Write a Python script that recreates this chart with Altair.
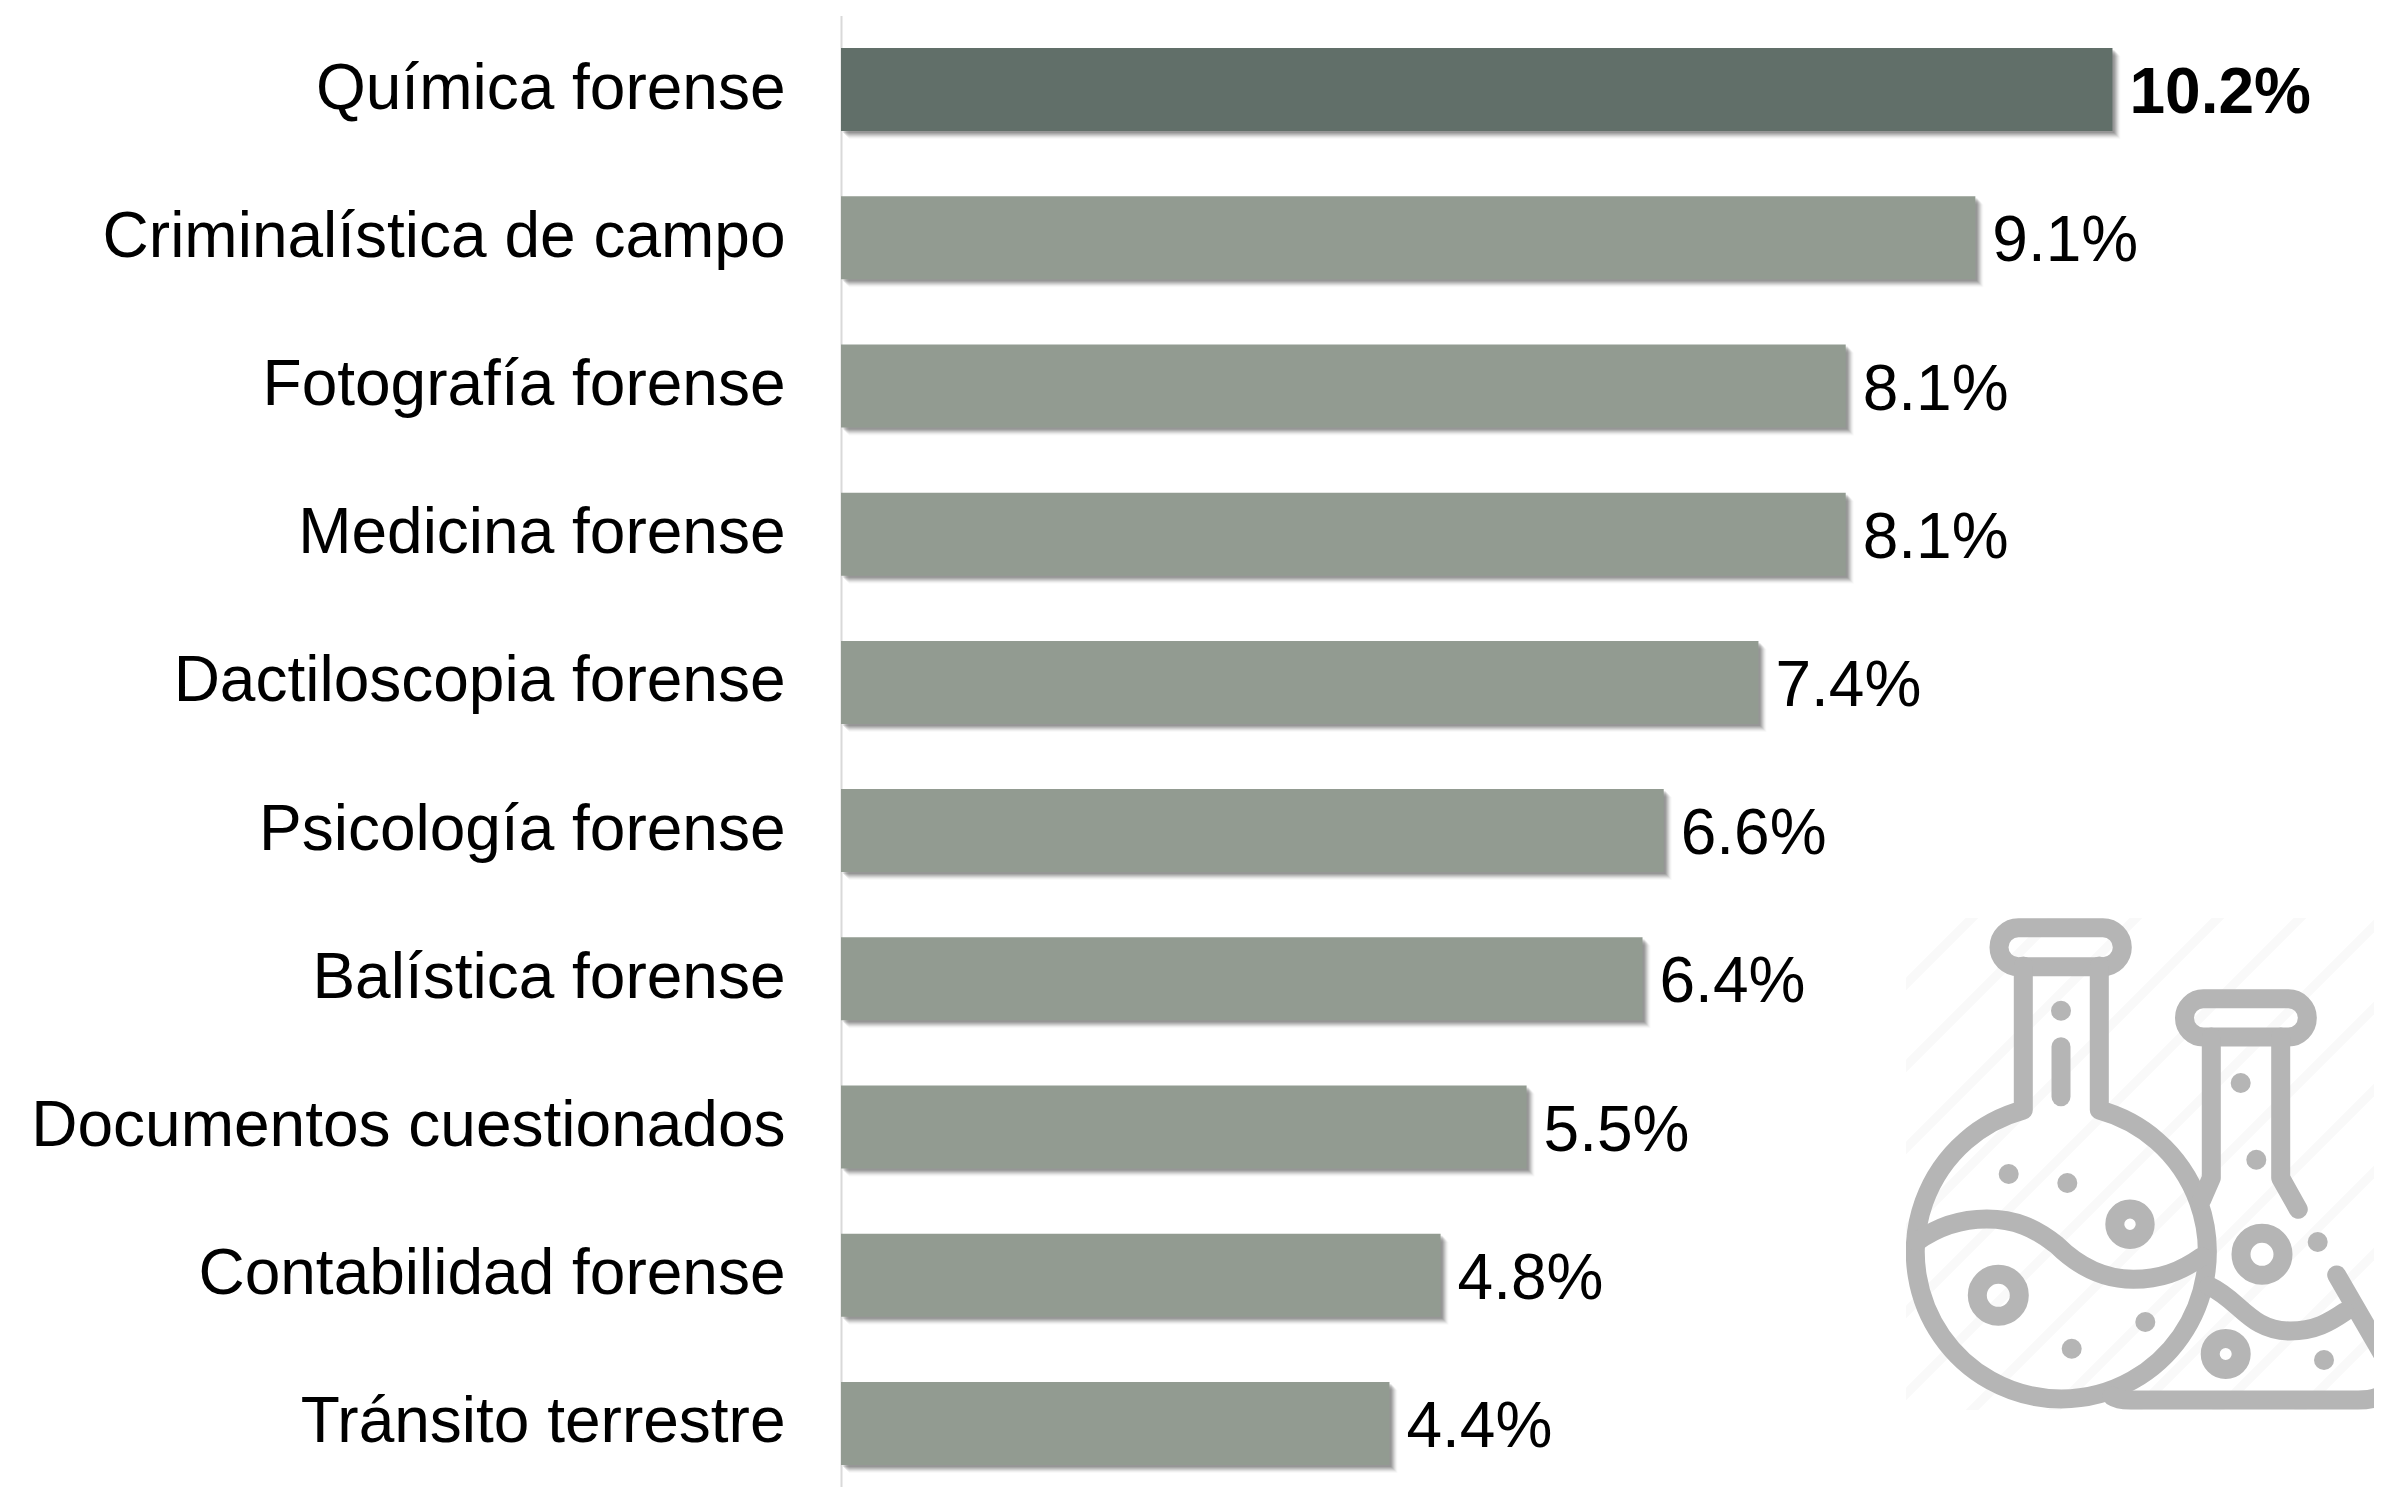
import urllib.parse
import altair as alt
import pandas as pd

categories = ["Química forense", "Criminalística de campo", "Fotografía forense", "Medicina forense",
              "Dactiloscopia forense", "Psicología forense", "Balística forense",
              "Documentos cuestionados", "Contabilidad forense", "Tránsito terrestre"]
shares = [0.102, 0.091, 0.0806, 0.0806, 0.0736, 0.066, 0.0643, 0.0550, 0.0481, 0.044]
highlight = [True, False, False, False, False, False, False, False, False, False]

df = pd.DataFrame({"area": categories, "share": shares, "top": highlight})

DARK = "#616F69"
LIGHT = "#929B91"
FONT = "Liberation Sans"

stripes = "".join(
    f'<line x1="{s-1500}" y1="1500" x2="{s-800}" y2="800"/>' for s in range(2890, 3900, 82)
)
dots = [(2008.7, 1174), (2067.3, 1183), (2145.3, 1322), (2071.7, 1348.7), (2256.3, 1159.7),
        (2317.7, 1242), (2324, 1360), (2061, 1010.7), (2240.7, 1083)]
rings = [(2130, 1224.3, 15.2), (1998.3, 1295.3, 21), (2262, 1254.3, 21), (2225.7, 1354, 15.5)]
icon_svg = f'''<svg xmlns="http://www.w3.org/2000/svg" width="476" height="492" viewBox="1906 918 476 492" preserveAspectRatio="none">
<g stroke="#f9f9f9" stroke-width="9" fill="none">{stripes}</g>
<g stroke="#b5b5b5" stroke-width="19" fill="none" stroke-linecap="round" stroke-linejoin="round">
<rect x="1999" y="927.7" width="123.3" height="39" rx="19.5"/>
<path d="M2023.3 966 V1110 A146 147 0 1 0 2099.3 1110 V966"/>
<path d="M1916.7 1241.7 C1940 1225 1965 1219 1986.7 1219 C2015 1219 2035 1228 2056.7 1245 C2080 1268 2105 1279.3 2133.3 1279.3 C2160 1279.3 2180 1272 2201.7 1256.7"/>
<path d="M2061 1046.7 V1096.7"/>
<rect x="2184.5" y="998.8" width="122.8" height="38.2" rx="19"/>
<path d="M2211.3 1037 V1178 L2201.7 1200"/>
<path d="M2280.7 1037 V1178 L2298.3 1209.3"/>
<path d="M2336.7 1275 L2385 1358.3 Q2403 1400 2358 1400 H2130 Q2118 1400 2112 1396"/>
<path d="M2209 1286 C2240 1300 2250 1331 2290 1331 C2315 1331 2330 1322 2345 1311.7"/>
{"".join(f'<circle cx="{x}" cy="{y}" r="{r}"/>' for x, y, r in rings)}
</g>
<g fill="#b5b5b5">{"".join(f'<circle cx="{x}" cy="{y}" r="10"/>' for x, y in dots)}</g>
</svg>'''
icon_url = "data:image/svg+xml," + urllib.parse.quote(icon_svg)

y_enc = alt.Y("area:N", sort=categories,
              scale=alt.Scale(paddingInner=0.44, paddingOuter=0.22),
              axis=alt.Axis(title=None, ticks=False, grid=False, domain=True,
                            domainColor="#d9d9d9", domainWidth=2,
                            labelFont=FONT, labelFontSize=64, labelColor="#000000",
                            labelPadding=56, labelLimit=900, labelOffset=0))
x_enc = alt.X("share:Q", scale=alt.Scale(domain=[0, 0.12298]), axis=None)

base = alt.Chart(df).encode(x=x_enc, y=y_enc)

shadows = [
    base.mark_bar(color="#000000", opacity=o, xOffset=d, x2Offset=d, yOffset=d, y2Offset=d)
    for d, o in [(8, 0.025), (7, 0.04), (6, 0.06), (5, 0.08), (4, 0.09), (3, 0.1), (2, 0.1)]
]
bars = base.mark_bar().encode(
    color=alt.Color("top:N", scale=alt.Scale(domain=[True, False], range=[DARK, LIGHT]), legend=None)
)
text_layer = base.transform_filter("!datum.top").mark_text(
    align="left", baseline="middle", dx=17, dy=4.5, font=FONT, fontSize=64, color="#000000"
).encode(text=alt.Text("share:Q", format=".1%"))
text_top = base.transform_filter("datum.top").mark_text(
    align="left", baseline="middle", dx=17, dy=4.5, font=FONT, fontSize=64, fontWeight="bold", color="#000000"
).encode(text=alt.Text("share:Q", format=".1%"))

icon = alt.Chart(alt.Data(values=[{"icon": 1}])).mark_image(
    url=icon_url, width=476, height=492, align="left", baseline="top"
).encode(x=alt.value(1065), y=alt.value(902.5))

chart = alt.layer(icon, *shadows, bars, text_layer, text_top).properties(
    width=1533, height=1482,
    autosize=alt.AutoSizeParams(type="none"),
    padding={"left": 833, "top": 7.5, "right": 0, "bottom": 0},
    background="#ffffff",
).configure_view(stroke=None)

chart.save("out.html", embed_options={"renderer": "svg", "actions": False})
